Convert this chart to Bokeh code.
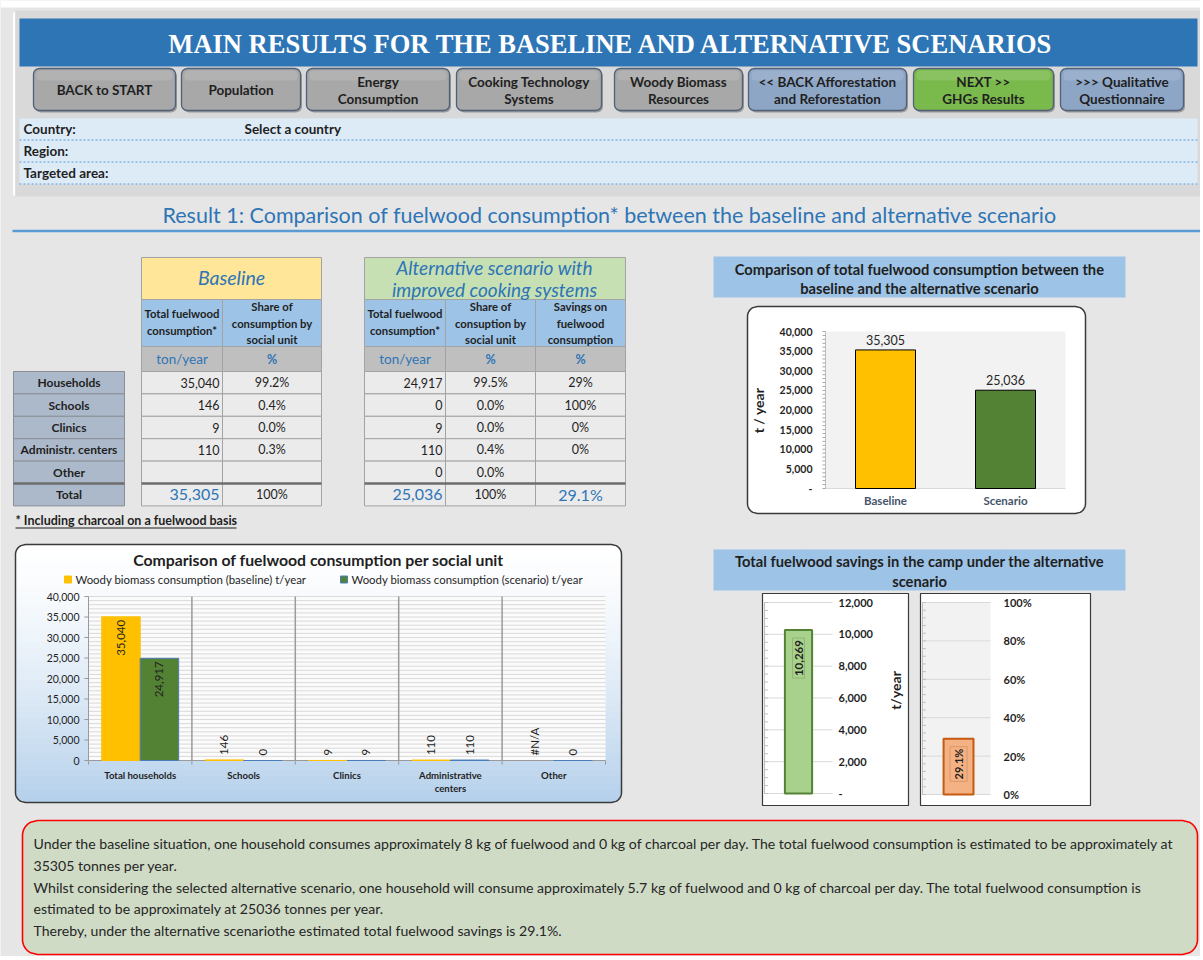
import numpy as np
from bokeh.plotting import figure
from bokeh.models import Range1d
from bokeh.embed import file_html
from bokeh.resources import INLINE
from bokeh.core.properties import value

FONT = "Lato"
SERIF = "Liberation Serif"
BG = "#e6e6e6"
DARK = "#1f1f1f"
BLUE = "#2e75b6"

# ---------------- data ----------------
social_units = ["Households", "Schools", "Clinics", "Administr. centers", "Other"]
baseline_t = [35040, 146, 9, 110, None]
baseline_share = [99.2, 0.4, 0.0, 0.3, None]
scenario_t = [24917, 0, 9, 110, 0]
scenario_share = [99.5, 0.0, 0.0, 0.4, 0.0]
savings_share = [29, 100, 0, 0, None]
baseline_total = 35305
scenario_total = 25036
total_savings_pct = 29.1
total_savings_t = 10269

totals_categories = ["Baseline", "Scenario"]
totals_values = [35305, 25036]
totals_colors = ["#ffc000", "#548235"]
totals_ticks = [0, 5000, 10000, 15000, 20000, 25000, 30000, 35000, 40000]
totals_tick_labels = ["-", "5,000", "10,000", "15,000", "20,000", "25,000", "30,000", "35,000", "40,000"]

unit_categories = ["Total households", "Schools", "Clinics", "Administrative\ncenters", "Other"]
unit_baseline = [35040, 146, 9, 110, None]
unit_scenario = [24917, 0, 9, 110, 0]
unit_ticks = [0, 5000, 10000, 15000, 20000, 25000, 30000, 35000, 40000]
unit_tick_labels = ["0", "5,000", "10,000", "15,000", "20,000", "25,000", "30,000", "35,000", "40,000"]
legend_labels = ["Woody biomass consumption (baseline) t/year", "Woody biomass consumption (scenario) t/year"]

savings_ticks = [0, 2000, 4000, 6000, 8000, 10000, 12000]
savings_tick_labels = ["-", "2,000", "4,000", "6,000", "8,000", "10,000", "12,000"]
pct_ticks = [0, 20, 40, 60, 80, 100]
pct_tick_labels = ["0%", "20%", "40%", "60%", "80%", "100%"]

hh_fuelwood_base, hh_charcoal_base = 8, 0
hh_fuelwood_scen, hh_charcoal_scen = 5.7, 0

buttons = [
    ("BACK to START", "gray"), ("Population", "gray"), ("Energy\nConsumption", "gray"),
    ("Cooking Technology\nSystems", "gray"), ("Woody Biomass\nResources", "gray"),
    ("<< BACK Afforestation\nand Reforestation", "blue"), ("NEXT >>\nGHGs Results", "green"),
    (">>> Qualitative\nQuestionnaire", "blue"),
]

# ---------------- layout constants ----------------
btn_x = [(33, 175), (181, 300), (306, 449), (456, 601), (614, 742), (748, 906), (913, 1053), (1060, 1183)]
btn_fill = {"gray": "#a8a8a8", "blue": "#8ea6c6", "green": "#7ab94c"}

W, H = 1200, 956
p = figure(width=W, height=H, x_range=Range1d(0, W), y_range=Range1d(H, 0),
           x_axis_location=None, y_axis_location=None, output_backend="svg",
           toolbar_location=None, tools="", min_border=0)
p.outline_line_color = None
p.background_fill_color = BG
p.border_fill_color = BG


def T(tg, xs, ys, ss, size=12, color=DARK, style="normal", align="left", base="middle",
      angle=0, font=FONT, xo=0, yo=0, **kw):
    tg.text(x=list(xs), y=list(ys), text=list(ss), text_font=value(font),
            text_font_size=value(f"{size}px"), text_color=color, text_font_style=style,
            text_align=align, text_baseline=base, angle=angle, x_offset=xo, y_offset=yo, **kw)


def rr_poly(l, r, t, b, rad, y0=None, y1=None, n=10):
    y0 = t if y0 is None else y0
    y1 = b if y1 is None else y1
    cand = list(np.linspace(t, t + rad, n)) + list(np.linspace(b - rad, b, n)) + [y0, y1]
    ys = sorted(set(float(y) for y in cand if y0 <= y <= y1))

    def inset(y):
        if y < t + rad:
            d = t + rad - y
        elif y > b - rad:
            d = y - (b - rad)
        else:
            return 0.0
        d = min(d, rad)
        return rad - np.sqrt(max(rad * rad - d * d, 0.0))
    left = [l + inset(y) for y in ys]
    right = [r - inset(y) for y in ys]
    return left + right[::-1], ys + ys[::-1]


def rbox(l, r, t, b, rad, fill, line=None, lw=1.0, alpha=1.0):
    xs, ys = rr_poly(l, r, t, b, rad)
    p.patch(xs, ys, fill_color=fill, fill_alpha=alpha, line_color=line, line_width=lw)


def fmt_num(v):
    return "" if v is None else f"{v:,}"


def fmt_pct(v, d=1):
    return "" if v is None else f"{v:.{d}f}%"


# ---------------- header ----------------
p.quad(left=[0], right=[W], top=[0], bottom=[7], fill_color="white", line_color=None)
p.quad(left=[15], right=[W], top=[10], bottom=[196], fill_color="#d9d9d9", line_color=None)
p.segment(x0=[13.5], y0=[12], x1=[13.5], y1=[195], line_color="white", line_width=2)
p.quad(left=[19], right=[1197], top=[18], bottom=[66], fill_color="#2e75b6", line_color=None)
T(p, [611], [43], ["MAIN RESULTS FOR THE BASELINE AND ALTERNATIVE SCENARIOS"], size=26.5,
  color="white", style="bold", align="center", font=SERIF)

for (l, r), (lbl, kind) in zip(btn_x, buttons):
    rbox(l + 1.5, r + 1.5, 70, 112, 6, "#6f6f6f", alpha=0.6)
    rbox(l, r, 68, 110, 6, btn_fill[kind], line="#4f6078", lw=1.3)
    rbox(l + 3, r - 3, 70, 80, 4, "white", alpha=0.12)
    lines = lbl.split("\n")
    cy = 89.5
    ys = [cy] if len(lines) == 1 else [cy - 8.5, cy + 8.5]
    T(p, [(l + r) / 2] * len(lines), ys, lines, size=13.5, style="bold", align="center")

p.quad(left=[19], right=[1197], top=[118], bottom=[184], fill_color="#ddebf7", line_color=None)
p.segment(x0=[19] * 3, y0=[139.5, 161.5, 183.5], x1=[1197] * 3, y1=[139.5, 161.5, 183.5],
          line_color="#5b9bd5", line_width=1, line_dash="2 2")
T(p, [23, 23, 23], [128, 150, 172], ["Country:", "Region:", "Targeted area:"], size=13.5, style="bold")
T(p, [244], [128], ["Select a country"], size=13.5, style="bold")

T(p, [609], [214], ["Result 1: Comparison of fuelwood consumption* between the baseline and alternative scenario"],
  size=21.5, color=BLUE, align="center")
p.segment(x0=[12], y0=[230.5], x1=[W], y1=[230.5], line_color="#5b9bd5", line_width=2.5)

# ---------------- tables ----------------
GRID = "#a3a3a3"
row_edges = [371, 393.4, 415.8, 438.2, 460.6, 483, 505.4]
rt = row_edges[:-1]
rb = row_edges[1:]
rc = [(a + b) / 2 for a, b in zip(rt, rb)]
base_cols = [141, 222, 321]
scen_cols = [364, 445, 535, 625]

p.quad(left=[13] * 6, right=[124] * 6, top=rt, bottom=rb, fill_color="#acb9ca", line_color="#8a8f96")
p.segment(x0=[13], y0=[483], x1=[124], y1=[483], line_color="#6d6d6d", line_width=2.5)
T(p, [68.5] * 6, rc, social_units + ["Total"], size=12, style="bold", align="center")


def table(cols, hdr_fill):
    l, r = cols[0], cols[-1]
    p.quad(left=[l], right=[r], top=[257], bottom=[299], fill_color=hdr_fill, line_color=GRID)
    n = len(cols) - 1
    p.quad(left=cols[:-1], right=cols[1:], top=[299] * n, bottom=[346] * n, fill_color="#9dc3e6", line_color=GRID)
    p.quad(left=cols[:-1], right=cols[1:], top=[346] * n, bottom=[371] * n, fill_color="#bfbfbf", line_color=GRID)
    L, R, TT, BB = [], [], [], []
    for i in range(n):
        for j in range(6):
            L.append(cols[i]); R.append(cols[i + 1]); TT.append(rt[j]); BB.append(rb[j])
    p.quad(left=L, right=R, top=TT, bottom=BB, fill_color="#ebebeb", line_color=GRID)
    p.segment(x0=[l], y0=[483], x1=[r], y1=[483], line_color="#6d6d6d", line_width=2.5)


table(base_cols, "#ffe699")
table(scen_cols, "#c6e0b4")

T(p, [231], [277], ["Baseline"], size=19.5, color=BLUE, style="italic", align="center")
T(p, [494, 494], [267, 289], ["Alternative scenario with", "improved cooking systems"], size=19,
  color=BLUE, style="italic", align="center")

SUB = 11.3
T(p, [181.5, 181.5], [313, 330], ["Total fuelwood", "consumption*"], size=SUB, style="bold", align="center")
T(p, [271.5] * 3, [306, 323, 339], ["Share of", "consumption by", "social unit"], size=SUB, style="bold", align="center")
T(p, [404.5, 404.5], [313, 330], ["Total fuelwood", "consumption*"], size=SUB, style="bold", align="center")
T(p, [490] * 3, [306, 323, 339], ["Share of", "consuption by", "social unit"], size=SUB, style="bold", align="center")
T(p, [580] * 3, [306, 323, 339], ["Savings on", "fuelwood", "consumption"], size=SUB, style="bold", align="center")

T(p, [181.5, 404.5], [358.5, 358.5], ["ton/year", "ton/year"], size=13.5, color=BLUE, align="center")
T(p, [271.5, 490, 580], [358.5] * 3, ["%", "%", "%"], size=12.5, color=BLUE, style="bold", align="center")

DS = 12.5
T(p, [219] * 5, rc[:5], [fmt_num(v) for v in baseline_t], size=DS, align="right")
T(p, [271.5] * 5, rc[:5], [fmt_pct(v) for v in baseline_share], size=DS, align="center")
T(p, [442] * 5, rc[:5], [fmt_num(v) for v in scenario_t], size=DS, align="right")
T(p, [490] * 5, rc[:5], [fmt_pct(v) for v in scenario_share], size=DS, align="center")
T(p, [580] * 5, rc[:5], [fmt_pct(v, 0) for v in savings_share], size=DS, align="center")

T(p, [219, 442], [rc[5], rc[5]], [f"{baseline_total:,}", f"{scenario_total:,}"], size=16, color=BLUE, align="right")
T(p, [580], [rc[5]], [f"{total_savings_pct:.1f}%"], size=16, color=BLUE, align="center")
T(p, [271.5, 490], [rc[5], rc[5]], ["100%", "100%"], size=DS, align="center")

T(p, [15], [520], ["* Including charcoal on a fuelwood basis"], size=12.5, style="bold")
p.segment(x0=[15], y0=[527.5], x1=[236], y1=[527.5], line_color=DARK, line_width=1)

# ---------------- chart 1: total comparison ----------------
p.quad(left=[713], right=[1125], top=[256], bottom=[297], fill_color="#9dc3e6", line_color=None)
T(p, [919, 919], [268, 287], ["Comparison of total fuelwood consumption between the",
                              "baseline and the alternative scenario"], size=14.7, style="bold", align="center")
rbox(747, 1085, 306, 513, 10, "white", line="#3a3a3a", lw=1.5)

c1 = p.subplot(x_source=Range1d(0, 2), y_source=Range1d(0, 40000),
               x_target=Range1d(825, 1065), y_target=Range1d(488, 331))
c1.quad(left=[0], right=[2], bottom=[0], top=[40000], fill_color="#f2f2f2", line_color=None)
c1.segment(x0=[0], y0=[0], x1=[2], y1=[0], line_color="#d9d9d9", line_width=1)
c1.segment(x0=[0], y0=[0], x1=[0], y1=[40000], line_color="#bfbfbf", line_width=1)
minor1 = list(range(0, 40001, 1000))
c1.segment(x0=[-0.025] * len(minor1), y0=minor1, x1=[0] * len(minor1), y1=minor1, line_color="#a6a6a6", line_width=1)
c1.vbar(x=[0.5, 1.5], width=0.5, top=totals_values, bottom=0, fill_color=totals_colors,
        line_color="black", line_width=1)
T(c1, [0] * len(totals_ticks), totals_ticks, totals_tick_labels, size=10.5, style="bold",
  color="#262626", align="right", xo=-13)
T(c1, [0.5, 1.5], totals_values, [f"{v:,}" for v in totals_values], size=12.5, color="#262626",
  align="center", base="bottom", yo=-5)
T(c1, [0.5, 1.5], [0, 0], totals_categories, size=11.5, style="bold", color="#44546a",
  align="center", yo=12)
T(p, [758], [410], ["t / year"], size=14, style="bold", align="center", angle=np.pi / 2)

# ---------------- chart 2: per social unit ----------------
L2, R2, T2, B2, RAD2 = 15, 621, 544, 802, 10
nb = 40
edges = np.linspace(T2, B2, nb + 1)
c_top = np.array([255, 255, 255])
c_bot = np.array([181, 208, 235])
bxs, bys, bcols = [], [], []
for i in range(nb):
    f = ((i + 0.5) / nb) ** 1.4
    col = c_top + (c_bot - c_top) * f
    xs, ys = rr_poly(L2, R2, T2, B2, RAD2, edges[i], min(edges[i + 1] + 0.7, B2), n=6)
    bxs.append(xs); bys.append(ys)
    bcols.append("#%02x%02x%02x" % tuple(int(round(c)) for c in col))
p.patches(bxs, bys, fill_color=bcols, line_color=None)

T(p, [318], [559], ["Comparison of fuelwood consumption per social unit"], size=15.8, style="bold", align="center")
p.quad(left=[64, 340], right=[71, 347], top=[575.5, 575.5], bottom=[582.5, 582.5],
       fill_color=["#ffc000", "#548235"], line_color=["#ffc000", "#4a7ebb"])
T(p, [75, 351], [579, 579], legend_labels, size=11.4, color=DARK)

c2 = p.subplot(x_source=Range1d(0, 5), y_source=Range1d(0, 40000),
               x_target=Range1d(88, 605), y_target=Range1d(760, 596))
c2.quad(left=[0], right=[5], bottom=[0], top=[40000], fill_color="#fbfbfb", line_color=None)
minor2 = list(range(1000, 40001, 1000))
c2.segment(x0=[0] * len(minor2), y0=minor2, x1=[5] * len(minor2), y1=minor2, line_color="#d6d6d6", line_width=0.9)
seps = [1, 2, 3, 4]
c2.segment(x0=seps, y0=[0] * 4, x1=seps, y1=[40000] * 4, line_color="#9a9a9a", line_width=1.5)
c2.segment(x0=[0, 1, 2, 3, 4, 5], y0=[0] * 6, x1=[0, 1, 2, 3, 4, 5], y1=[-1000] * 6, line_color="#9a9a9a", line_width=1)
c2.segment(x0=[0], y0=[0], x1=[0], y1=[40000], line_color="#9a9a9a", line_width=1)
c2.segment(x0=[-0.04] * len(unit_ticks), y0=unit_ticks, x1=[0] * len(unit_ticks), y1=unit_ticks,
           line_color="#9a9a9a", line_width=1)
c2.segment(x0=[0], y0=[0], x1=[5], y1=[0], line_color="#9a9a9a", line_width=1)

xc = [i + 0.5 for i in range(len(unit_categories))]
xb = [x - 0.186 for x in xc]
xs_ = [x + 0.186 for x in xc]
base_vals = [np.nan if v is None else v for v in unit_baseline]
c2.vbar(x=xb, width=0.372, top=base_vals, bottom=0, fill_color="#ffc000", line_color="#ffc000", line_width=1)
c2.vbar(x=xs_, width=0.372, top=unit_scenario, bottom=0, fill_color="#548235", line_color="#4a7ebb", line_width=1)


def bar_labels(xpos, vals, na="#N/A"):
    ins_x, ins_y, ins_t, out_x, out_y, out_t = [], [], [], [], [], []
    for x, v in zip(xpos, vals):
        lbl = na if v is None else f"{v:,}"
        yv = 0 if v is None else v
        if yv > 5000:
            ins_x.append(x); ins_y.append(yv); ins_t.append(lbl)
        else:
            out_x.append(x); out_y.append(yv); out_t.append(lbl)
    T(c2, ins_x, ins_y, ins_t, size=11.5, color=DARK, align="right", angle=np.pi / 2, yo=3)
    T(c2, out_x, out_y, out_t, size=11.5, color=DARK, align="left", angle=np.pi / 2, yo=-5)


bar_labels(xb, unit_baseline)
bar_labels(xs_, unit_scenario)

T(c2, [0] * len(unit_ticks), unit_ticks, unit_tick_labels, size=10.5, color=DARK, align="right", xo=-9)
T(c2, xc, [0] * len(xc), unit_categories, size=9.6, style="bold", color=DARK, align="center",
  base="top", yo=9, text_line_height=1.25)

xs, ys = rr_poly(L2, R2, T2, B2, RAD2)
p.patch(xs, ys, fill_color=None, line_color="#3a3a3a", line_width=1.5)

# ---------------- charts 3/4: savings ----------------
p.quad(left=[713], right=[1125], top=[549], bottom=[590], fill_color="#9dc3e6", line_color=None)
T(p, [919, 919], [560, 580], ["Total fuelwood savings in the camp under the alternative", "scenario"],
  size=14.7, style="bold", align="center")
p.quad(left=[762, 920], right=[908, 1090], top=[593, 593], bottom=[805, 805], fill_color="white",
       line_color="#3a3a3a", line_width=1.2)

c3 = p.subplot(x_source=Range1d(0, 1), y_source=Range1d(0, 12000),
               x_target=Range1d(764, 832), y_target=Range1d(793, 602))
c3.segment(x0=[0] * len(savings_ticks), y0=savings_ticks, x1=[1] * len(savings_ticks), y1=savings_ticks,
           line_color="#d9d9d9", line_width=1)
minor3 = list(range(0, 12001, 500))
c3.segment(x0=[0] * len(minor3), y0=minor3, x1=[0.05] * len(minor3), y1=minor3, line_color="#bfbfbf", line_width=1)
c3.segment(x0=[0], y0=[0], x1=[0], y1=[12000], line_color="#bfbfbf", line_width=1)
c3.vbar(x=[0.5], width=0.4, top=[total_savings_t], bottom=0, fill_color="#a9d18e", line_color="#548235", line_width=2)
T(c3, [0.5], [total_savings_t], [f"{total_savings_t:,}"], size=11.5, style="bold", color=DARK,
  align="right", angle=np.pi / 2, yo=8, background_fill_color="#a9d18e", padding=2,
  border_line_color="#8fb873")
T(c3, [1] * len(savings_ticks), savings_ticks, savings_tick_labels, size=11, style="bold",
  color=DARK, align="left", xo=6)
T(p, [895], [690], ["t/year"], size=14, style="bold", align="center", angle=np.pi / 2)

c4 = p.subplot(x_source=Range1d(0, 1), y_source=Range1d(0, 100),
               x_target=Range1d(922, 990), y_target=Range1d(794, 602))
c4.quad(left=[0], right=[1], bottom=[0], top=[100], fill_color="#f2f2f2", line_color=None)
c4.segment(x0=[0] * len(pct_ticks), y0=pct_ticks, x1=[1] * len(pct_ticks), y1=pct_ticks,
           line_color="#d9d9d9", line_width=1)
minor4 = list(range(0, 101, 4))
c4.segment(x0=[0] * len(minor4), y0=minor4, x1=[0.05] * len(minor4), y1=minor4, line_color="#bfbfbf", line_width=1)
c4.segment(x0=[0], y0=[0], x1=[0], y1=[100], line_color="#bfbfbf", line_width=1)
c4.vbar(x=[0.53], width=0.44, top=[total_savings_pct], bottom=0, fill_color="#f4b183", line_color="#c55a11", line_width=2)
T(c4, [0.53], [total_savings_pct], [f"{total_savings_pct:.1f}%"], size=11, style="bold", color=DARK,
  align="right", angle=np.pi / 2, yo=8, background_fill_color="#f4b183", padding=2,
  border_line_color="#d99868")
T(c4, [1] * len(pct_ticks), pct_ticks, pct_tick_labels, size=11, style="bold", color=DARK, align="left", xo=13)

# ---------------- text box ----------------
rbox(22, 1197, 820, 954, 15, "#cfdbc5", line="#ff0000", lw=1.6)
para = [
    f"Under the baseline situation, one household consumes approximately {hh_fuelwood_base} kg of fuelwood and {hh_charcoal_base} kg of charcoal per day. The total fuelwood consumption is estimated to be approximately at",
    f"{baseline_total} tonnes per year.",
    f"Whilst considering the selected alternative scenario, one household will consume approximately {hh_fuelwood_scen} kg of fuelwood and {hh_charcoal_scen} kg of charcoal per day. The total fuelwood consumption is",
    f"estimated to be approximately at {scenario_total} tonnes per year.",
    f"Thereby, under the alternative scenariothe estimated total fuelwood savings is {total_savings_pct}%.",
]
T(p, [33] * 5, [843, 865, 887, 908, 930], para, size=14.1, color="#262626")

open("out.html", "w").write(file_html(p, INLINE))
